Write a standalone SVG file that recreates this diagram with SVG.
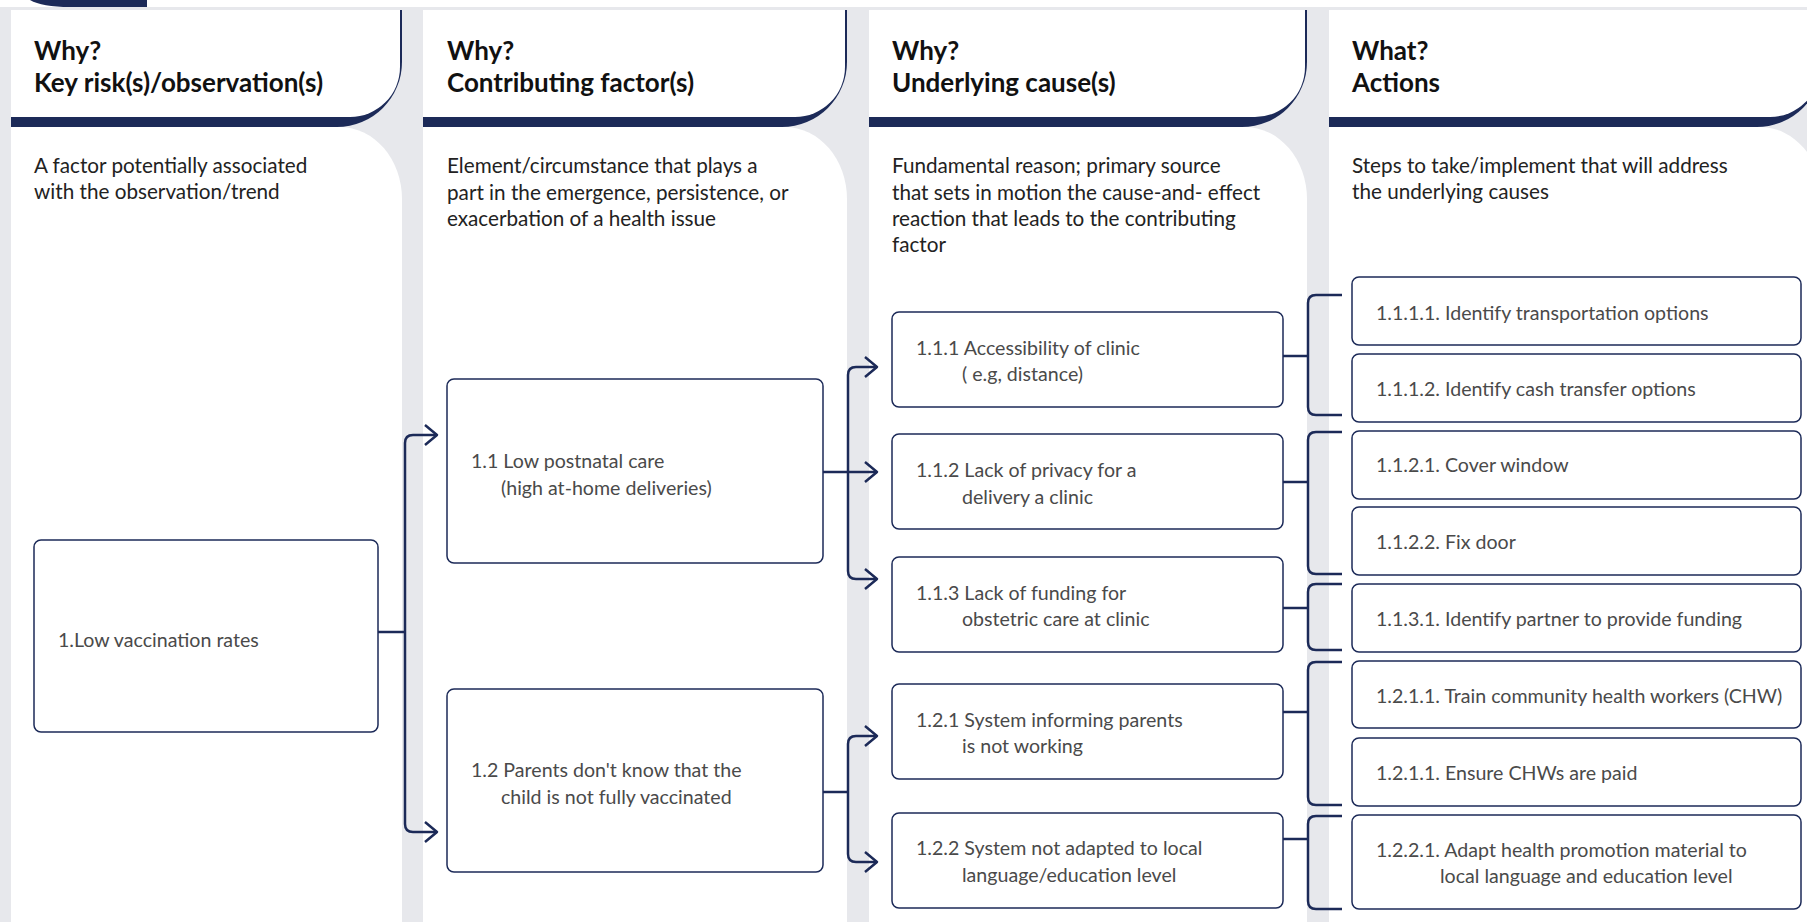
<svg xmlns="http://www.w3.org/2000/svg" width="1807" height="922" viewBox="0 0 1807 922">
  <style>
    .bg { fill: #e7e8ec; }
    .navy { fill: #1c2a58; }
    .paper { fill: #ffffff; }
    .hd { font-family: Lato, "Noto Sans", sans-serif; font-weight: 700; font-size: 26px; fill: #111111; }
    .ds { font-family: Lato, "Noto Sans", sans-serif; font-size: 20.7px; fill: #222222; }
    .node rect { fill: #ffffff; stroke: #1c2a58; stroke-width: 1.5; }
    .node text { font-family: Lato, "Noto Sans", sans-serif; font-size: 19.6px; fill: #4a4a4a; }
    .conn path { fill: none; stroke: #1c2a58; stroke-width: 2.5; stroke-linejoin: round; }
    .conn .arrow { marker-end: url(#chev); }
  </style>
  <defs>
    <marker id="chev" viewBox="-14 -12 16 24" refX="0" refY="0" markerWidth="16" markerHeight="24" markerUnits="userSpaceOnUse" orient="auto">
      <path d="M -12 -10 L 0 0 L -12 10" fill="none" stroke="#1c2a58" stroke-width="2.5" stroke-linejoin="round"/>
    </marker>
  </defs>

  <!-- page background and top strip -->
  <rect class="bg" x="0" y="0" width="1807" height="922"/>
  <rect class="paper" x="0" y="0" width="1807" height="7"/>
  <path class="navy" d="M 30 0 Q 42 7 70 7 L 147 7 L 147 0 Z"/>

  <!-- column panels -->
  <g id="col-risk">
    <path class="paper" d="M 11 127 L 340 127 A 62 72 0 0 1 402 199 L 402 922 L 11 922 Z"/>
    <path class="navy" d="M 11 10 L 402 10 L 402 62 A 65 65 0 0 1 337 127 L 11 127 Z"/>
    <path class="paper" d="M 11 10 L 400 10 L 400 67 A 50 50 0 0 1 350 117 L 11 117 Z"/>
    <text class="hd" x="34" y="60">Why?</text>
    <text class="hd" x="34" y="92">Key risk(s)/observation(s)</text>
    <text class="ds" x="34" y="173">A factor potentially associated</text>
    <text class="ds" x="34" y="199">with the observation/trend</text>
  </g>
  <g id="col-factor">
    <path class="paper" d="M 423 127 L 785 127 A 62 72 0 0 1 847 199 L 847 922 L 423 922 Z"/>
    <path class="navy" d="M 423 10 L 847 10 L 847 62 A 65 65 0 0 1 782 127 L 423 127 Z"/>
    <path class="paper" d="M 423 10 L 845 10 L 845 67 A 50 50 0 0 1 795 117 L 423 117 Z"/>
    <text class="hd" x="447" y="60">Why?</text>
    <text class="hd" x="447" y="92">Contributing factor(s)</text>
    <text class="ds" x="447" y="173">Element/circumstance that plays a</text>
    <text class="ds" x="447" y="200">part in the emergence, persistence, or</text>
    <text class="ds" x="447" y="226">exacerbation of a health issue</text>
  </g>
  <g id="col-cause">
    <path class="paper" d="M 869 127 L 1245 127 A 62 72 0 0 1 1307 199 L 1307 922 L 869 922 Z"/>
    <path class="navy" d="M 869 10 L 1307 10 L 1307 62 A 65 65 0 0 1 1242 127 L 869 127 Z"/>
    <path class="paper" d="M 869 10 L 1305 10 L 1305 67 A 50 50 0 0 1 1255 117 L 869 117 Z"/>
    <text class="hd" x="892" y="60">Why?</text>
    <text class="hd" x="892" y="92">Underlying cause(s)</text>
    <text class="ds" x="892" y="173">Fundamental reason; primary source</text>
    <text class="ds" x="892" y="200">that sets in motion the cause-and- effect</text>
    <text class="ds" x="892" y="226">reaction that leads to the contributing</text>
    <text class="ds" x="892" y="252">factor</text>
  </g>
  <g id="col-action">
    <path class="paper" d="M 1329 127 L 1760 127 A 62 72 0 0 1 1822 199 L 1822 922 L 1329 922 Z"/>
    <path class="navy" d="M 1329 10 L 1822 10 L 1822 62 A 65 65 0 0 1 1757 127 L 1329 127 Z"/>
    <path class="paper" d="M 1329 10 L 1820 10 L 1820 67 A 50 50 0 0 1 1770 117 L 1329 117 Z"/>
    <text class="hd" x="1352" y="60">What?</text>
    <text class="hd" x="1352" y="92">Actions</text>
    <text class="ds" x="1352" y="173">Steps to take/implement that will address</text>
    <text class="ds" x="1352" y="199">the underlying causes</text>
  </g>

  <!-- connectors -->
  <g id="connectors" class="conn">
    <path d="M 378 632 L 405 632"/>
    <path class="arrow" d="M 405 632 L 405 443 Q 405 435 413 435 L 437 435"/>
    <path class="arrow" d="M 405 632 L 405 824 Q 405 832 413 832 L 437 832"/>

    <path class="arrow" d="M 823 472 L 877 472"/>
    <path class="arrow" d="M 848 472 L 848 375 Q 848 367 856 367 L 877 367"/>
    <path class="arrow" d="M 848 472 L 848 571 Q 848 579 856 579 L 877 579"/>

    <path d="M 823 792 L 848 792"/>
    <path class="arrow" d="M 848 792 L 848 744 Q 848 736 856 736 L 877 736"/>
    <path class="arrow" d="M 848 792 L 848 854 Q 848 862 856 862 L 877 862"/>

    <path d="M 1283 356 L 1308 356"/>
    <path d="M 1342 295 L 1316 295 Q 1308 295 1308 303 L 1308 407 Q 1308 415 1316 415 L 1342 415"/>
    <path d="M 1283 482 L 1308 482"/>
    <path d="M 1342 432 L 1316 432 Q 1308 432 1308 440 L 1308 566 Q 1308 574 1316 574 L 1342 574"/>
    <path d="M 1283 608 L 1308 608"/>
    <path d="M 1342 584 L 1316 584 Q 1308 584 1308 592 L 1308 642 Q 1308 650 1316 650 L 1342 650"/>
    <path d="M 1283 712 L 1308 712"/>
    <path d="M 1342 662 L 1316 662 Q 1308 662 1308 670 L 1308 797 Q 1308 805 1316 805 L 1342 805"/>
    <path d="M 1283 839 L 1308 839"/>
    <path d="M 1342 816 L 1316 816 Q 1308 816 1308 824 L 1308 901 Q 1308 909 1316 909 L 1342 909"/>
  </g>

  <!-- key risk -->
  <g id="n1" class="node">
    <rect x="34" y="540" width="344" height="192" rx="7"/>
    <text x="58" y="647">1.Low vaccination rates</text>
  </g>

  <!-- contributing factors -->
  <g id="n1-1" class="node">
    <rect x="447" y="379" width="376" height="184" rx="7"/>
    <text x="471" y="468">1.1 Low postnatal care</text>
    <text x="501" y="495">(high at-home deliveries)</text>
  </g>
  <g id="n1-2" class="node">
    <rect x="447" y="689" width="376" height="183" rx="7"/>
    <text x="471" y="777">1.2 Parents don't know that the</text>
    <text x="501" y="804">child is not fully vaccinated</text>
  </g>

  <!-- underlying causes -->
  <g id="n1-1-1" class="node">
    <rect x="892" y="312" width="391" height="95" rx="7"/>
    <text x="916" y="355">1.1.1 Accessibility of clinic</text>
    <text x="962" y="381">( e.g, distance)</text>
  </g>
  <g id="n1-1-2" class="node">
    <rect x="892" y="434" width="391" height="95" rx="7"/>
    <text x="916" y="477">1.1.2 Lack of privacy for a</text>
    <text x="962" y="504">delivery a clinic</text>
  </g>
  <g id="n1-1-3" class="node">
    <rect x="892" y="557" width="391" height="95" rx="7"/>
    <text x="916" y="600">1.1.3 Lack of funding for</text>
    <text x="962" y="626">obstetric care at clinic</text>
  </g>
  <g id="n1-2-1" class="node">
    <rect x="892" y="684" width="391" height="95" rx="7"/>
    <text x="916" y="727">1.2.1 System informing parents</text>
    <text x="962" y="753">is not working</text>
  </g>
  <g id="n1-2-2" class="node">
    <rect x="892" y="813" width="391" height="95" rx="7"/>
    <text x="916" y="855">1.2.2 System not adapted to local</text>
    <text x="962" y="882">language/education level</text>
  </g>

  <!-- actions -->
  <g id="a1-1-1-1" class="node">
    <rect x="1352" y="277" width="449" height="68" rx="7"/>
    <text x="1376" y="320">1.1.1.1. Identify transportation options</text>
  </g>
  <g id="a1-1-1-2" class="node">
    <rect x="1352" y="354" width="449" height="68" rx="7"/>
    <text x="1376" y="396">1.1.1.2. Identify cash transfer options</text>
  </g>
  <g id="a1-1-2-1" class="node">
    <rect x="1352" y="431" width="449" height="68" rx="7"/>
    <text x="1376" y="472">1.1.2.1. Cover window</text>
  </g>
  <g id="a1-1-2-2" class="node">
    <rect x="1352" y="507" width="449" height="68" rx="7"/>
    <text x="1376" y="549">1.1.2.2. Fix door</text>
  </g>
  <g id="a1-1-3-1" class="node">
    <rect x="1352" y="584" width="449" height="68" rx="7"/>
    <text x="1376" y="626">1.1.3.1. Identify partner to provide funding</text>
  </g>
  <g id="a1-2-1-1" class="node">
    <rect x="1352" y="661" width="449" height="67" rx="7"/>
    <text x="1376" y="703">1.2.1.1. Train community health workers (CHW)</text>
  </g>
  <g id="a1-2-1-2" class="node">
    <rect x="1352" y="738" width="449" height="68" rx="7"/>
    <text x="1376" y="780">1.2.1.1. Ensure CHWs are paid</text>
  </g>
  <g id="a1-2-2-1" class="node">
    <rect x="1352" y="815" width="449" height="94" rx="7"/>
    <text x="1376" y="857">1.2.2.1. Adapt health promotion material to</text>
    <text x="1440" y="883">local language and education level</text>
  </g>
</svg>
